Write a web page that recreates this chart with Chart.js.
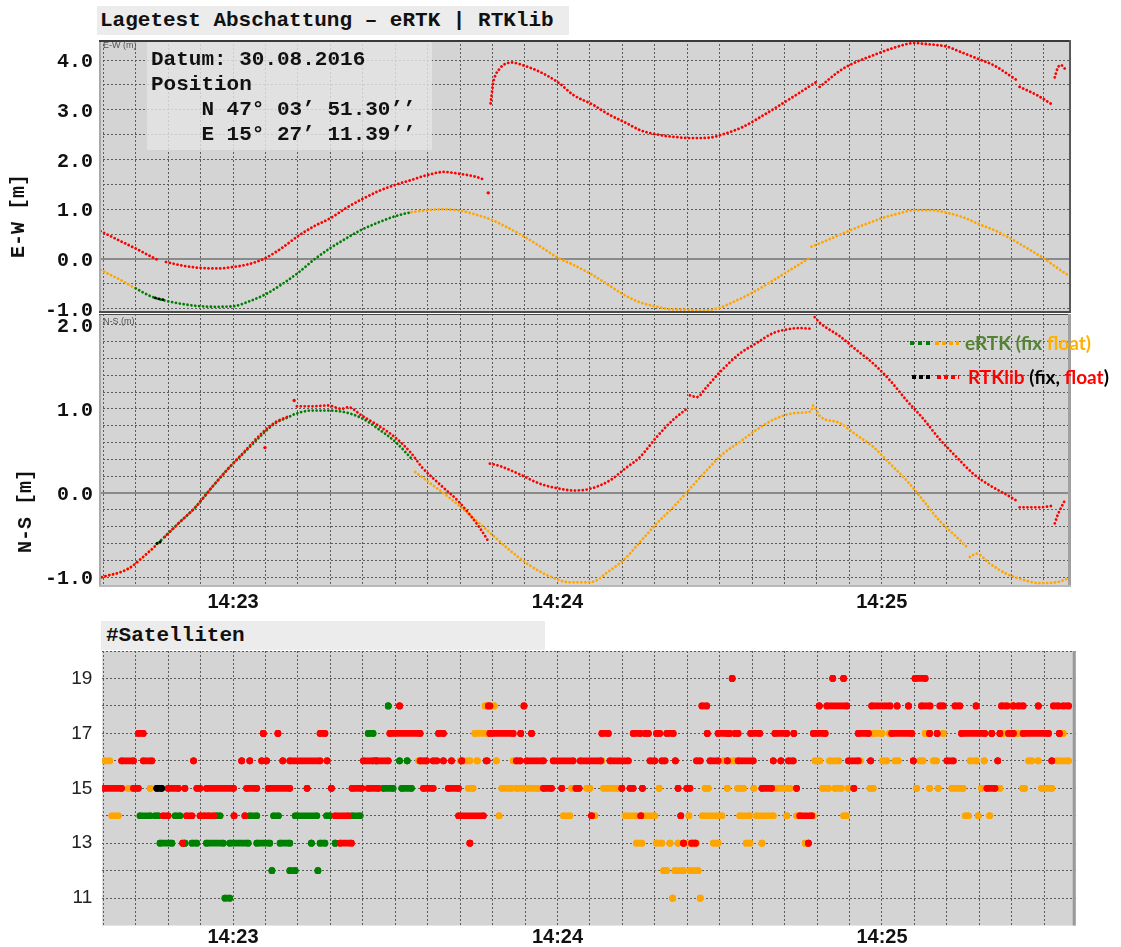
<!DOCTYPE html>
<html>
<head>
<meta charset="utf-8">
<title>Lagetest Abschattung – eRTK | RTKlib</title>
<script src="https://cdn.jsdelivr.net/npm/chart.js@4.4.1/dist/chart.umd.min.js"></script>
<style>
  html, body { margin: 0; padding: 0; background: #fff; }
  #page { position: relative; width: 1121px; height: 947px; overflow: hidden; }
  #page canvas { position: absolute; left: 0; top: 0; }
  .box { position: absolute; box-sizing: border-box; background: #ececec; color: #111;
         font: bold 21px "Liberation Mono", "Courier New", monospace; white-space: pre; }
  .info { position: absolute; box-sizing: border-box; background: rgba(228,228,228,0.82); }
  .infotext { position: absolute; color: #111; font: bold 21px "Liberation Mono", monospace;
              line-height: 25px; white-space: pre; }
  .axtitle { position: absolute; width: 120px; height: 24px; line-height: 24px; text-align: center;
             font: bold 20px "Liberation Mono", monospace; color: #111; transform: rotate(-90deg); }
  .mini { position: absolute; font: 9px "Liberation Sans", Arial, sans-serif; color: #555; }
  .legdots { position: absolute; height: 4px; }
  .legtext { position: absolute; font: bold 19px Lato, "Open Sans", sans-serif; white-space: pre; line-height: 22px; }
</style>
</head>
<body>
<div id="page">
  <canvas id="ewChart" width="1121" height="947"></canvas>
  <canvas id="nsChart" width="1121" height="947"></canvas>
  <canvas id="satChart" width="1121" height="947"></canvas>

  <div class="box" style="left:97px;top:6px;width:472px;height:29px;line-height:29px;padding-left:3px;">Lagetest Abschattung – eRTK | RTKlib</div>
  <div class="info" style="left:147px;top:42px;width:285px;height:108px;"></div>
  <div class="infotext" style="left:151px;top:47px;">Datum: 30.08.2016
Position
    N 47° 03’ 51.30’’
    E 15° 27’ 11.39’’</div>
  <div class="mini" style="left:103px;top:40px;">E-W (m)</div>
  <div class="mini" style="left:103px;top:316px;">N-S (m)</div>
  <div class="axtitle" style="left:-41px;top:204px;">E-W [m]</div>
  <div class="axtitle" style="left:-34px;top:499px;">N-S [m]</div>

  <div class="legdots" style="left:910px;top:341px;width:22px;background:repeating-linear-gradient(90deg,#008000 0 4px,transparent 4px 8px);"></div>
  <div class="legdots" style="left:935px;top:341px;width:24px;background:repeating-linear-gradient(90deg,#ffa500 0 4px,transparent 4px 7px);"></div>
  <div class="legtext" style="left:965px;top:332px;"><span style="color:#548235">eRTK (fix </span><span style="color:#ffb000">float)</span></div>
  <div class="legdots" style="left:912px;top:375px;width:20px;background:repeating-linear-gradient(90deg,#000 0 4px,transparent 4px 7px);"></div>
  <div class="legdots" style="left:937px;top:375px;width:22px;background:repeating-linear-gradient(90deg,#ff0000 0 4px,transparent 4px 7px);"></div>
  <div class="legtext" style="left:968px;top:366px;"><span style="color:#ff0000">RTKlib</span><span style="color:#000"> (fix, </span><span style="color:#ff0000">float</span><span style="color:#000">)</span></div>

  <div class="box" style="left:101px;top:621px;width:444px;height:29px;line-height:29px;padding-left:5px;">#Satelliten</div>
</div>

<script>
// ---- time axis: seconds after 14:22:00 ----
const timeGrid = [36, 42, 48, 54, 60, 66, 72, 78, 84, 90, 96, 102, 108, 114, 120, 126, 132, 138,
                  144, 150, 156, 162, 168, 174, 180, 186, 192, 198, 204, 210];
const minuteMarks = [60, 120, 180];
const minuteNames = ['14:23', '14:24', '14:25'];

// ---- value axes ----
const ewTicks = [-1, -0.5, 0, 0.5, 1, 1.5, 2, 2.5, 3, 3.5, 4];
const nsTicks = [-1, -0.8, -0.6, -0.4, -0.2, 0, 0.2, 0.4, 0.6, 0.8, 1, 1.2, 1.4, 1.6, 1.8, 2];
const satTicks = [11, 12, 13, 14, 15, 16, 17, 18, 19, 20];

// ---- E-W offset [m], eRTK ----
const ewErtkT = [35.5, 39, 42, 45, 48, 51, 54, 57, 60, 63, 66, 69, 72, 75, 78, 81, 84, 87, 90, 93, 96, 99,
  102, 105, 108, 111, 114, 117, 120, 123, 126, 129, 132, 135, 138, 141, 144, 147, 150, 153, 156, 159, 162,
  165, 166.7, 166.85, 167.0, 168, 171, 174, 177, 180, 183, 186, 189, 192, 195, 198, 201, 204, 207, 210, 213, 214.4];
const ewErtkV = [-0.22, -0.41, -0.59, -0.76, -0.85, -0.91, -0.95, -0.96, -0.95, -0.85, -0.71, -0.51, -0.28,
  -0.01, 0.22, 0.42, 0.60, 0.74, 0.86, 0.94, 0.98, 1.00, 0.97, 0.89, 0.78, 0.62, 0.44, 0.24, 0.03, -0.12,
  -0.29, -0.49, -0.70, -0.86, -0.95, -1.01, -1.02, -1.04, -0.98, -0.84, -0.68, -0.49, -0.29, -0.09, 0.03,
  null, 0.25, 0.29, 0.43, 0.57, 0.70, 0.82, 0.91, 0.98, 0.98, 0.93, 0.84, 0.70, 0.57, 0.40, 0.21, 0.01, -0.22, -0.32];

// ---- E-W offset [m], RTKlib float ----
const ewRtkT = [35.5, 39, 42, 45, 45.9, 46.7, 47.6, 48, 51, 54, 57, 60, 63, 66, 69, 72, 75, 78, 81, 84, 87,
  90, 93, 96, 99, 102, 105, 106.6, 107.1, 107.65, 108.1, 108.6, 109.2, 110.0, 111.5, 114, 116.8, 120.5,
  122.9, 126.6, 129.1, 132.8, 135.3, 139, 142, 145.1, 148.2, 150.1, 154.4, 158.7, 163.6, 167.9, 168.2,
  168.5, 172.9, 179.0, 182.1, 186.1, 188.3, 192.0, 194.4, 198.1, 200.6, 204.9, 205.2, 205.5, 208.6, 211.6,
  211.8, 212.0, 212.5, 213.1, 214.0];
const ewRtkV = [0.56, 0.37, 0.21, 0.04, -0.01, null, -0.06, -0.07, -0.14, -0.18, -0.19, -0.16, -0.10, 0.02,
  0.22, 0.46, 0.66, 0.82, 1.03, 1.21, 1.37, 1.49, 1.59, 1.69, 1.75, 1.71, 1.65, 1.59, null, 3.13, 3.53, 3.71,
  3.81, 3.90, 3.95, 3.88, 3.76, 3.52, 3.30, 3.10, 2.93, 2.73, 2.59, 2.49, 2.45, 2.43, 2.44, 2.49, 2.66, 2.93,
  3.26, 3.56, null, 3.46, 3.83, 4.12, 4.24, 4.34, 4.32, 4.27, 4.17, 4.01, 3.90, 3.60, null, 3.46, 3.30, 3.10,
  null, 3.65, 3.83, 3.90, 3.81];
const ewRtkFixT = [45.6, 46.3, 47.1];
const ewRtkFixV = [-0.78, -0.80, -0.82];
const ewRtkOddT = [107.2];
const ewRtkOddV = [1.33];

// ---- N-S offset [m], eRTK ----
const nsErtkT = [35.7, 40.6, 43.7, 46.2, 49.9, 53.0, 56.1, 59.1, 62.2, 65.3, 67.8, 70.2, 71.5, 74.6, 77.6,
  80.7, 83.8, 86.9, 90.0, 93.0, 93.3, 93.7, 96.4, 100.1, 103.8, 107.5, 111.2, 114.9, 118.6, 122.3, 126.0,
  129.7, 132.5, 135.3, 138.4, 141.4, 144.2, 147.6, 150.7, 153.8, 156.8, 159.9, 163.0, 166.1, 167.0, 167.2,
  168.6, 172.3, 175.3, 178.4, 181.5, 184.6, 187.7, 190.7, 193.8, 196.0, 196.1, 196.3, 197.5, 200.0, 203.1,
  206.1, 209.2, 212.3, 214.2];
const nsErtkV = [-1.00, -0.90, -0.74, -0.59, -0.36, -0.17, 0.07, 0.29, 0.49, 0.69, 0.83, 0.90, 0.94, 0.98,
  0.98, 0.96, 0.89, 0.76, 0.61, 0.41, null, 0.25, 0.12, -0.06, -0.26, -0.47, -0.68, -0.86, -0.99, -1.06,
  -1.06, -0.92, -0.78, -0.58, -0.36, -0.17, 0.03, 0.27, 0.47, 0.61, 0.75, 0.87, 0.94, 0.96, 0.98, 1.04, 0.91,
  0.83, 0.69, 0.55, 0.35, 0.15, -0.09, -0.33, -0.52, -0.66, null, -0.76, -0.72, -0.84, -0.96, -1.03, -1.07,
  -1.06, -1.02];

// ---- N-S offset [m], RTKlib float ----
const nsRtkT = [35.7, 40.6, 43.7, 45.6, 46.5, 47.4, 49.9, 53.0, 56.1, 59.1, 62.2, 65.3, 67.8, 70.2, 71.0,
  71.8, 74.6, 77.6, 80.1, 81.3, 83.8, 86.9, 90.0, 93.0, 94.9, 98.3, 102.0, 105.7, 107.2, 107.35, 107.5,
  109.4, 113.1, 116.8, 120.5, 123.2, 126.0, 129.7, 132.5, 135.3, 138.4, 141.4, 143.9, 144.2, 144.5, 145.8,
  147.6, 150.1, 153.8, 156.8, 159.9, 163.0, 164.8, 167.3, 167.45, 167.6, 168.6, 172.3, 175.3, 178.4, 181.5,
  184.6, 187.7, 190.7, 193.8, 196.9, 200.0, 203.1, 204.9, 205.2, 205.5, 209.2, 211.7, 211.85, 212.0, 212.6,
  213.2, 214.0];
const nsRtkV = [-1.00, -0.90, -0.74, -0.63, null, -0.52, -0.36, -0.17, 0.07, 0.29, 0.50, 0.71, 0.84, 0.91,
  null, 1.03, 1.03, 1.04, 1.00, 1.02, 0.92, 0.80, 0.66, 0.47, 0.31, 0.10, -0.12, -0.42, -0.57, null, 0.35,
  0.32, 0.22, 0.11, 0.05, 0.03, 0.05, 0.15, 0.29, 0.43, 0.67, 0.87, 1.00, null, 1.16, 1.14, 1.26, 1.44, 1.66,
  1.78, 1.90, 1.95, 1.96, 1.95, null, 2.09, 2.02, 1.86, 1.70, 1.54, 1.34, 1.10, 0.88, 0.64, 0.43, 0.23, 0.09,
  -0.02, -0.09, null, -0.17, -0.17, -0.15, null, -0.36, -0.25, -0.17, -0.07];
const nsRtkFixT = [45.9, 46.5, 47.1];
const nsRtkFixV = [-0.60, -0.58, -0.555];
const nsRtkOddT = [65.9, 71.3];
const nsRtkOddV = [0.54, 1.10];

// eRTK fixed-solution periods [from, to] in seconds
const ertkFixSpans = [[42.8, 44.5], [45.8, 93.3]];

// ---- satellite counts: runs of epochs [count, from, to] ----
const satErtkFix = [
  [18, 88.7, 88.7], [17, 85.0, 85.9], [16, 86.4, 86.4], [16, 90.8, 90.8], [16, 92.2, 92.2],
  [15, 87.8, 89.6], [15, 91.2, 93.0],
  [14, 42.8, 44.7], [14, 45.6, 46.2], [14, 49.3, 50.2], [14, 57.0, 57.6], [14, 63.1, 64.4], [14, 67.5, 68.4],
  [14, 71.5, 75.5], [14, 77.3, 77.9], [14, 82.0, 83.5],
  [13, 46.5, 48.7], [13, 51.1, 51.1], [13, 52.4, 53.3], [13, 55.1, 58.2], [13, 59.4, 62.8], [13, 64.4, 66.8],
  [13, 68.7, 70.5], [13, 74.5, 74.5], [13, 76.1, 77.0], [13, 78.9, 78.9],
  [12, 67.2, 67.2], [12, 70.5, 71.5], [12, 75.7, 75.7],
  [11, 58.5, 59.4]
];
const satErtkFloat = [
  [16, 36.3, 37.2], [14, 37.6, 38.8], [15, 40.6, 41.3], [15, 44.7, 44.7],
  [16, 94.3, 95.8], [15, 97.0, 97.0], [16, 102.0, 103.8], [16, 105.1, 105.2], [15, 103.5, 104.4],
  [17, 104.7, 107.2], [18, 106.6, 106.9], [18, 108.3, 108.3],
  [16, 108.7, 108.7], [16, 111.8, 112.4], [16, 128.2, 128.2],
  [15, 109.7, 111.5], [15, 112.4, 116.5], [15, 122.6, 123.2], [15, 125.4, 126.0], [15, 128.5, 131.6],
  [15, 138.8, 138.8], [15, 147.3, 147.9],
  [14, 109.2, 109.2], [14, 121.1, 122.3], [14, 126.9, 126.9], [14, 132.5, 134.6], [14, 135.9, 138.0],
  [14, 144.3, 144.3], [14, 146.8, 150.4],
  [13, 134.6, 135.6], [13, 138.3, 139.3], [13, 140.8, 140.8], [13, 142.3, 142.3], [13, 144.2, 145.7],
  [13, 148.8, 149.7],
  [12, 139.6, 140.2], [12, 141.7, 143.3], [12, 144.5, 146.0],
  [11, 141.3, 141.3], [11, 146.4, 146.4],
  [16, 150.7, 150.7], [16, 151.9, 152.8], [16, 167.6, 168.5], [16, 170.3, 172.0], [16, 176.0, 176.0],
  [16, 180.1, 180.9], [16, 182.4, 183.0], [16, 187.0, 187.6], [16, 189.5, 190.1], [16, 196.3, 197.5],
  [16, 198.9, 198.9], [16, 207.1, 207.7], [16, 208.9, 208.9], [16, 212.3, 214.5],
  [17, 178.4, 180.0], [17, 181.4, 181.4], [17, 188.0, 188.0], [17, 191.3, 191.3], [17, 202.4, 202.4],
  [17, 205.2, 205.2], [17, 213.5, 213.5],
  [18, 204.0, 204.0],
  [15, 151.4, 151.4], [15, 153.3, 154.4], [15, 156.3, 156.3], [15, 160.4, 163.0], [15, 169.0, 170.1],
  [15, 171.3, 172.5], [15, 173.8, 173.8], [15, 177.8, 178.4], [15, 186.4, 186.4], [15, 188.8, 188.8],
  [15, 190.4, 190.4], [15, 192.9, 195.0], [15, 198.4, 198.4], [15, 201.8, 201.8], [15, 206.0, 206.4],
  [15, 209.5, 211.4],
  [14, 153.7, 155.5], [14, 156.8, 159.9], [14, 162.4, 162.4], [14, 164.2, 164.8], [14, 167.3, 167.3],
  [14, 172.9, 173.5], [14, 195.4, 196.0], [14, 197.8, 197.8], [14, 199.9, 199.9],
  [13, 154.9, 155.6], [13, 157.8, 157.8], [13, 165.8, 165.8]
];
const satRtkFloat = [
  [18, 90.8, 90.8], [18, 107.2, 107.5], [18, 113.8, 113.8], [18, 146.7, 147.6],
  [17, 42.5, 43.4], [17, 65.6, 65.6], [17, 68.3, 68.3], [17, 76.1, 77.0], [17, 89.0, 94.6], [17, 98.0, 98.9],
  [17, 107.5, 111.8], [17, 113.2, 113.2], [17, 115.2, 115.2], [17, 128.2, 129.4], [17, 134.0, 135.3],
  [17, 136.2, 136.8], [17, 138.3, 138.9], [17, 140.2, 141.4], [17, 147.7, 147.7], [17, 149.7, 151.3],
  [16, 39.4, 41.6], [16, 43.4, 45.0], [16, 52.7, 52.7], [16, 61.6, 61.6], [16, 63.1, 63.1], [16, 65.3, 65.3],
  [16, 66.2, 66.2], [16, 69.2, 69.2], [16, 70.5, 76.1], [16, 77.4, 77.4], [16, 84.1, 85.9], [16, 86.6, 88.7],
  [16, 94.6, 95.8], [16, 97.0, 97.7], [16, 98.9, 98.9], [16, 100.4, 100.4], [16, 102.3, 102.3],
  [16, 106.8, 107.0], [16, 112.4, 113.1], [16, 114.3, 117.4], [16, 119.2, 122.9], [16, 124.2, 128.0],
  [16, 129.7, 133.1], [16, 137.1, 138.0], [16, 139.3, 139.9], [16, 141.8, 141.8], [16, 145.7, 146.4],
  [16, 148.2, 149.7],
  [15, 36.0, 39.4], [15, 41.6, 42.5], [15, 48.0, 49.9], [15, 51.1, 51.1], [15, 53.3, 53.9], [15, 55.1, 60.1],
  [15, 62.5, 64.4], [15, 66.5, 70.5], [15, 73.7, 73.7], [15, 78.2, 78.2], [15, 82.0, 83.8], [15, 85.0, 86.9],
  [15, 95.2, 97.0], [15, 99.8, 101.7], [15, 117.4, 118.9], [15, 120.8, 120.8], [15, 123.4, 124.0],
  [15, 131.9, 131.9], [15, 133.4, 134.0], [15, 135.7, 135.7], [15, 142.3, 142.3], [15, 143.9, 144.5],
  [14, 47.1, 48.0], [14, 51.4, 52.4], [14, 53.9, 54.8], [14, 55.4, 56.5], [14, 60.2, 60.2], [14, 62.2, 62.2],
  [14, 78.9, 81.3], [14, 101.7, 106.3], [14, 126.3, 126.3], [14, 135.4, 135.4], [14, 142.8, 142.8],
  [13, 50.7, 50.7], [13, 79.8, 81.9], [13, 103.8, 103.8], [13, 143.3, 143.3], [13, 144.8, 145.5],
  [19, 152.3, 152.3], [19, 170.9, 170.9], [19, 172.9, 172.9], [19, 186.1, 188.0],
  [18, 168.4, 168.4], [18, 169.8, 173.5], [18, 178.1, 181.5], [18, 182.8, 182.8], [18, 184.9, 184.9],
  [18, 187.3, 188.9], [18, 190.7, 191.3], [18, 193.5, 194.4], [18, 197.4, 197.4], [18, 202.1, 203.1],
  [18, 204.3, 204.3], [18, 205.2, 206.1], [18, 208.9, 208.9], [18, 211.7, 212.6], [18, 213.5, 214.5],
  [17, 151.8, 151.8], [17, 152.8, 153.4], [17, 155.7, 157.4], [17, 160.2, 162.4], [17, 163.7, 163.7],
  [17, 167.3, 169.5], [17, 175.6, 177.5], [17, 181.8, 185.5], [17, 188.8, 188.8], [17, 190.2, 190.2],
  [17, 194.7, 199.0], [17, 200.3, 200.3], [17, 201.8, 201.8], [17, 203.4, 204.3], [17, 206.1, 210.8],
  [17, 212.8, 212.8],
  [16, 151.4, 151.4], [16, 153.4, 156.2], [16, 159.9, 159.9], [16, 161.3, 161.3], [16, 162.7, 163.6],
  [16, 173.8, 175.6], [16, 177.9, 177.9], [16, 185.8, 185.8], [16, 192.0, 193.2], [16, 201.4, 201.4],
  [16, 211.4, 211.4],
  [15, 157.8, 159.6], [15, 164.2, 164.2], [15, 174.8, 174.8], [15, 199.4, 200.9],
  [14, 164.8, 167.0], [13, 166.4, 166.4]
];
const satRtkFix = [[15, 45.9, 46.8]];

// ---- colours ----
const RED = '#ff0000', ORANGE = '#ffa500', GREEN = '#008000', BLACK = '#000000';
const PLOT_BG = '#d4d4d4';
const GRID = '#5c5c5c';

// ---- helpers ----
const toPoints = (T, V) => T.map((t, i) => ({ x: t, y: V[i] }));
const inSpans = (spans, a, b) => { const m = (a + b) / 2; return spans.some(s => m >= s[0] && m <= s[1]); };

// position traces are stroked as a row of small round dots
function trace(label, T, V, color, extra) {
  return Object.assign({
    label, data: toPoints(T, V), borderColor: color, backgroundColor: color,
    borderWidth: 2.8, borderDash: [0.01, 3.9], borderCapStyle: 'round', pointRadius: 0, spanGaps: false,
    cubicInterpolationMode: 'monotone', fill: false
  }, extra || {});
}
function ertkTrace(label, T, V) {
  return trace(label, T, V, ORANGE, {
    segment: { borderColor: ctx => inSpans(ertkFixSpans, T[ctx.p0DataIndex], T[ctx.p1DataIndex]) ? GREEN : ORANGE }
  });
}
function strayPoints(label, T, V, color) {
  return { label, data: toPoints(T, V), showLine: false, pointRadius: 1.7, pointBorderWidth: 0,
           pointBackgroundColor: color, borderColor: color };
}
// each run of epochs becomes one short bar of dots at its satellite count
function runPoints(runs) {
  const out = [];
  runs.forEach(([n, a, b]) => { out.push({ x: a, y: n }, { x: b, y: n }, { x: b, y: null }); });
  return out;
}
function satTrace(label, runs, color) {
  return { label, data: runPoints(runs), borderColor: color, backgroundColor: color,
           borderWidth: 6.7, borderCapStyle: 'round', pointRadius: 3.35, pointBorderWidth: 0,
           pointBackgroundColor: color, spanGaps: false, tension: 0 };
}

// plot background, zero line and frame edges
const framePlugin = {
  id: 'frame',
  beforeDraw(chart, args, o) {
    const { ctx, chartArea: a } = chart;
    ctx.save();
    ctx.fillStyle = o.bg;
    ctx.fillRect(a.left, a.top, a.right - a.left, a.bottom - a.top);
    ctx.restore();
  },
  beforeDatasetsDraw(chart, args, o) {
    if (!o.zero) return;
    const { ctx, chartArea: a } = chart;
    const y = Math.round(chart.scales.y.getPixelForValue(0));
    ctx.save();
    ctx.strokeStyle = '#8a8a8a'; ctx.lineWidth = 2;
    ctx.beginPath(); ctx.moveTo(a.left, y); ctx.lineTo(a.right, y); ctx.stroke();
    ctx.restore();
  },
  afterDatasetsDraw(chart, args, o) {
    const { ctx, chartArea: a } = chart;
    ctx.save();
    (o.edges || []).forEach(e => {
      ctx.strokeStyle = e.color; ctx.lineWidth = e.width;
      const h = e.width / 2;
      ctx.beginPath();
      if (e.side === 'top') { ctx.moveTo(a.left, a.top + h); ctx.lineTo(a.right, a.top + h); }
      if (e.side === 'bottom') { ctx.moveTo(a.left, a.bottom - h); ctx.lineTo(a.right, a.bottom - h); }
      if (e.side === 'left') { ctx.moveTo(a.left + h, a.top); ctx.lineTo(a.left + h, a.bottom); }
      if (e.side === 'right') { ctx.moveTo(a.right - h, a.top); ctx.lineTo(a.right - h, a.bottom); }
      ctx.stroke();
    });
    ctx.restore();
  }
};

function timeAxis(min, max, height, padding) {
  return {
    type: 'linear', min, max,
    afterBuildTicks: ax => { ax.ticks = timeGrid.map(v => ({ value: v })); },
    afterFit: ax => { ax.height = height; },
    grid: { color: GRID, lineWidth: 1, drawTicks: false },
    border: { display: false, dash: [2, 2] },
    ticks: {
      display: height > 0, autoSkip: false, maxRotation: 0, minRotation: 0, padding,
      color: '#111', font: { family: 'Liberation Sans', weight: 'bold', size: 20 },
      callback: v => { const k = minuteMarks.indexOf(v); return k >= 0 ? minuteNames[k] : ''; }
    }
  };
}
function valueAxis(min, max, ticks, width, tickOpts) {
  return {
    type: 'linear', min, max,
    afterBuildTicks: ax => { ax.ticks = ticks.map(v => ({ value: v })); },
    afterFit: ax => { ax.width = width; },
    grid: { color: GRID, lineWidth: 1, drawTicks: false },
    border: { display: false, dash: [2, 2] },
    ticks: Object.assign({ autoSkip: false, color: '#111' }, tickOpts)
  };
}
function baseOptions(padding, scales, frame) {
  return {
    responsive: false, animation: false, events: [],
    layout: { padding },
    scales,
    plugins: { legend: { display: false }, tooltip: { enabled: false }, frame }
  };
}
const monoTicks = {
  padding: 6, labelOffset: 2,
  font: { family: 'Liberation Mono', weight: 'bold', size: 20 },
  callback: v => Number.isInteger(v) ? v.toFixed(1) : ''
};

// ---- E-W panel ----
new Chart(document.getElementById('ewChart'), {
  type: 'line',
  data: { datasets: [
    trace('RTKlib fix', ewRtkFixT, ewRtkFixV, BLACK),
    strayPoints('RTKlib float (single)', ewRtkOddT, ewRtkOddV, RED),
    trace('RTKlib float', ewRtkT, ewRtkV, RED),
    ertkTrace('eRTK', ewErtkT, ewErtkV)
  ] },
  options: baseOptions({ top: 40, bottom: 634, left: 0, right: 50 }, {
    x: timeAxis(35.2, 215, 0, 0),
    y: valueAxis(-1.085, 4.402, ewTicks, 99, monoTicks)
  }, { bg: PLOT_BG, zero: true, edges: [
    { side: 'left', color: '#a9a9a9', width: 2 },
    { side: 'top', color: '#3a3a3a', width: 2 },
    { side: 'right', color: '#5a5a5a', width: 2 },
    { side: 'bottom', color: '#4a4a4a', width: 2 }
  ] }),
  plugins: [framePlugin]
});

// ---- N-S panel ----
new Chart(document.getElementById('nsChart'), {
  type: 'line',
  data: { datasets: [
    trace('RTKlib fix', nsRtkFixT, nsRtkFixV, BLACK),
    strayPoints('RTKlib float (single)', nsRtkOddT, nsRtkOddV, RED),
    trace('RTKlib float', nsRtkT, nsRtkV, RED),
    ertkTrace('eRTK', nsErtkT, nsErtkV)
  ] },
  options: baseOptions({ top: 314, bottom: 330, left: 0, right: 50 }, {
    x: timeAxis(35.2, 215, 30, 3),
    y: valueAxis(-1.116, 2.127, nsTicks, 99, monoTicks)
  }, { bg: PLOT_BG, zero: true, edges: [
    { side: 'left', color: '#a9a9a9', width: 2 },
    { side: 'top', color: '#4a4a4a', width: 1 },
    { side: 'right', color: '#a0a0a0', width: 3 },
    { side: 'bottom', color: '#b8b8b8', width: 2 }
  ] }),
  plugins: [framePlugin]
});

// ---- number of satellites ----
new Chart(document.getElementById('satChart'), {
  type: 'line',
  data: { datasets: [
    satTrace('RTKlib fix', satRtkFix, BLACK),
    satTrace('RTKlib float', satRtkFloat, RED),
    satTrace('eRTK fix', satErtkFix, GREEN),
    satTrace('eRTK float', satErtkFloat, ORANGE)
  ] },
  options: baseOptions({ top: 651, bottom: 0, left: 0, right: 45.3 }, {
    x: timeAxis(35.83, 215.82, 20, 0),
    y: valueAxis(10, 20, satTicks, 102.3, {
      padding: 10, font: { family: 'Liberation Sans', size: 19 }, color: '#222',
      callback: v => (v % 2 === 1 && v < 20) ? String(v) : ''
    })
  }, { bg: PLOT_BG, zero: false, edges: [
    { side: 'right', color: '#999999', width: 3 }
  ] }),
  plugins: [framePlugin]
});
</script>
</body>
</html>
